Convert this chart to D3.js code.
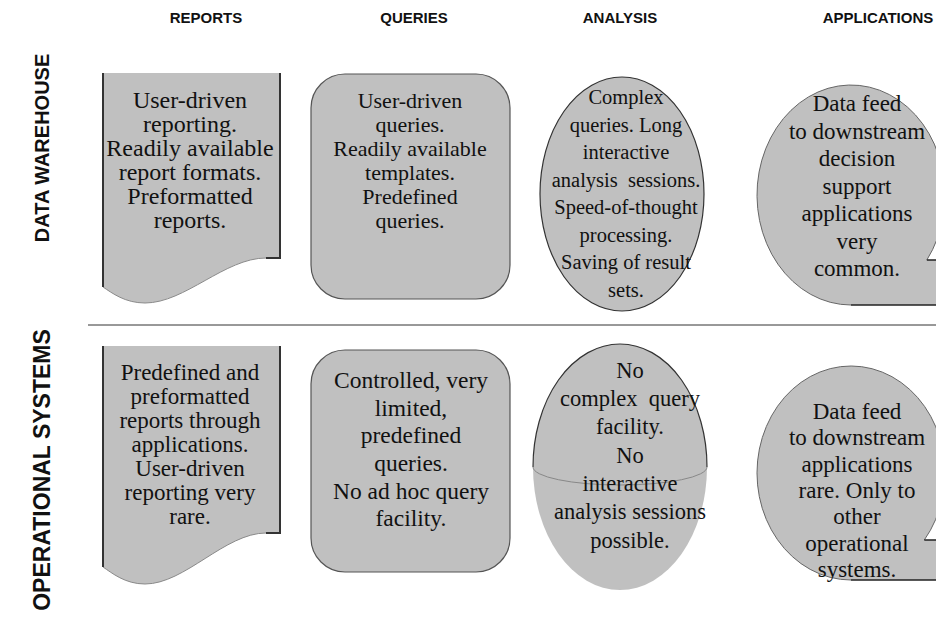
<!DOCTYPE html>
<html><head><meta charset="utf-8">
<script src="https://cdn.jsdelivr.net/npm/d3@7"></script>
<style>body{margin:0;background:#fff}svg{display:block}</style>
</head><body><svg id="c" width="936" height="619"></svg>
<script>
// ---- data ----
const columns = ["REPORTS", "QUERIES", "ANALYSIS", "APPLICATIONS"];
const rows = ["DATA WAREHOUSE", "OPERATIONAL SYSTEMS"];
const shapeTypes = ["document", "roundRect", "ellipse", "tape"];
const dwTexts = [
  ["User-driven", "reporting.", "Readily available", "report formats.", "Preformatted", "reports."],
  ["User-driven", "queries.", "Readily available", "templates.", "Predefined", "queries."],
  ["Complex", "queries. Long", "interactive", "analysis  sessions.", "Speed-of-thought", "processing.", "Saving of result", "sets."],
  ["Data feed", "to downstream", "decision", "support", "applications", "very", "common."]
];
const osTexts = [
  ["Predefined and", "preformatted", "reports through", "applications.", "User-driven", "reporting very", "rare."],
  ["Controlled, very", "limited,", "predefined", "queries.", "No ad hoc query", "facility."],
  ["No", "complex  query", "facility.", "No", "interactive", "analysis sessions", "possible."],
  ["Data feed", "to downstream", "applications", "rare. Only to", "other", "operational", "systems."]
];

// ---- layout ----
const svg = d3.select("#c");
const W = 936;
const FILL = "#c0c0c0";
const headX = d3.scaleOrdinal().domain(columns).range([206, 414, 620, 878]);
const rowY = d3.scaleOrdinal().domain(rows).range([148, 470]);
const rowFont = d3.scaleOrdinal().domain(rows).range([20, 23]);

// headers
svg.selectAll("text.head").data(columns).join("text")
  .attr("class", "head")
  .attr("x", d => headX(d)).attr("y", 18).attr("dy", "0.35em")
  .attr("text-anchor", "middle")
  .style("font-family", "'Liberation Sans', Arial, sans-serif")
  .style("font-weight", "bold").style("font-size", "15px").attr("fill", "#111")
  .text(d => d);

// row labels
svg.selectAll("text.row").data(rows).join("text")
  .attr("class", "row")
  .attr("transform", d => `translate(42,${rowY(d)}) rotate(-90)`)
  .attr("dy", "0.35em").attr("text-anchor", "middle")
  .style("font-family", "'Liberation Sans', Arial, sans-serif")
  .style("font-weight", "bold").style("font-size", d => rowFont(d) + "px").attr("fill", "#111")
  .text(d => d);

// separator
svg.append("line").attr("x1", 88).attr("x2", W).attr("y1", 325).attr("y2", 325)
  .attr("stroke", "#333").attr("stroke-width", 1);

// geometry per row
const geo = {
  "DATA WAREHOUSE": {
    doc: {x0: 103, x1: 280, top: 73, rEnd: 258, lEnd: 287, low: 303},
    rr: {x0: 311, x1: 510, top: 74, bot: 299},
    el: {cx: 622, cy: 194, rx: 82, ry: 117, equator: false},
    tape: {cx: 851, cy: 195, rx: 94, ry: 110, notch: 260},
    textX: [190, 410, 626, 857],
    textTop: [100, 100, 97, 103], lh: [24, 24, 27.5, 27.5],
    font: [24, 22, 20.5, 23]
  },
  "OPERATIONAL SYSTEMS": {
    doc: {x0: 103, x1: 280, top: 346, rEnd: 533, lEnd: 567, low: 584},
    rr: {x0: 311, x1: 510, top: 350, bot: 572},
    el: {cx: 620, cy: 467, rx: 87, ry: 123, equator: true},
    tape: {cx: 851, cy: 473, rx: 94, ry: 107, notch: 540},
    textX: [190, 411, 630, 857],
    textTop: [372, 380, 370, 411], lh: [24, 27.6, 28.3, 26.3],
    font: [23, 23.5, 22.5, 23]
  }
};

function drawDoc(g, d) {
  const {x0, x1, top, rEnd, lEnd, low} = d;
  const xe = x1 - 14;
  const waveC = `C${x1 - 55},${rEnd} ${x0 + 82},${low} ${x0 + 42},${low} C${x0 + 22},${low} ${x0 + 9},${lEnd + 6} ${x0},${lEnd}`;
  g.append("path")
    .attr("d", `M${x0},${top} H${x1} V${rEnd} H${xe} ${waveC} Z`)
    .attr("fill", FILL).attr("stroke", "none");
  g.append("path").attr("d", `M${xe},${rEnd} ${waveC}`).attr("fill", "none").attr("stroke", "#8a8a8a").attr("stroke-width", 1);
  g.append("path").attr("d", `M${x0},${top} V${lEnd}`).attr("stroke", "#333").attr("stroke-width", 2);
  g.append("path").attr("d", `M${x1},${top} V${rEnd} H${xe}`).attr("fill", "none").attr("stroke", "#333").attr("stroke-width", 2);
}
function drawRR(g, d) {
  g.append("rect").attr("x", d.x0).attr("y", d.top)
    .attr("width", d.x1 - d.x0).attr("height", d.bot - d.top)
    .attr("rx", 34).attr("ry", 34)
    .attr("fill", FILL).attr("stroke", "#555").attr("stroke-width", 1.2);
}
function drawEllipse(g, d) {
  const {cx, cy, rx, ry} = d;
  if (!d.equator) {
    g.append("ellipse").attr("cx", cx).attr("cy", cy).attr("rx", rx).attr("ry", ry)
      .attr("fill", FILL).attr("stroke", "#333").attr("stroke-width", 1.2);
  } else {
    g.append("ellipse").attr("cx", cx).attr("cy", cy).attr("rx", rx).attr("ry", ry)
      .attr("fill", FILL).attr("stroke", "none");
    g.append("path").attr("d", `M${cx - rx},${cy} A${rx},${ry} 0 0 1 ${cx + rx},${cy}`)
      .attr("fill", "none").attr("stroke", "#333").attr("stroke-width", 1.2);
    g.append("path").attr("d", `M${cx - rx},${cy} A${rx},18 0 0 0 ${cx + rx},${cy}`)
      .attr("fill", "none").attr("stroke", "#888").attr("stroke-width", 1);
  }
}
function drawTape(g, d) {
  const {cx, cy, rx, ry, notch} = d;
  const b = cy + ry, r = cx + rx;
  const px = cx + rx * Math.sqrt(1 - Math.pow((notch - cy) / ry, 2));
  g.append("path")
    .attr("d", `M${cx},${b} A${rx},${ry} 0 1 1 ${px},${notch} L${r},${notch} L${r},${b} Z`)
    .attr("fill", FILL).attr("stroke", "none");
  g.append("path").attr("d", `M${cx},${b} A${rx},${ry} 0 1 1 ${px},${notch}`)
    .attr("fill", "none").attr("stroke", "#666").attr("stroke-width", 1);
  g.append("path").attr("d", `M${px},${notch} H${r} M${cx},${b} H${r}`)
    .attr("fill", "none").attr("stroke", "#222").attr("stroke-width", 1.6);
}

rows.forEach((row, ri) => {
  const G = geo[row];
  const texts = ri === 0 ? dwTexts : osTexts;
  columns.forEach((col, ci) => {
    const g = svg.append("g");
    const t = shapeTypes[ci];
    if (t === "document") drawDoc(g, G.doc);
    else if (t === "roundRect") drawRR(g, G.rr);
    else if (t === "ellipse") drawEllipse(g, G.el);
    else drawTape(g, G.tape);
    g.selectAll("text").data(texts[ci]).join("text")
      .attr("x", G.textX[ci])
      .attr("y", (d, i) => G.textTop[ci] + i * G.lh[ci])
      .attr("dy", "0.35em").attr("text-anchor", "middle")
      .style("font-family", "'Liberation Serif', 'Times New Roman', serif")
      .style("font-size", G.font[ci] + "px").style("white-space", "pre").attr("fill", "#111")
      .text(d => d);
  });
});
</script>
</body></html>
